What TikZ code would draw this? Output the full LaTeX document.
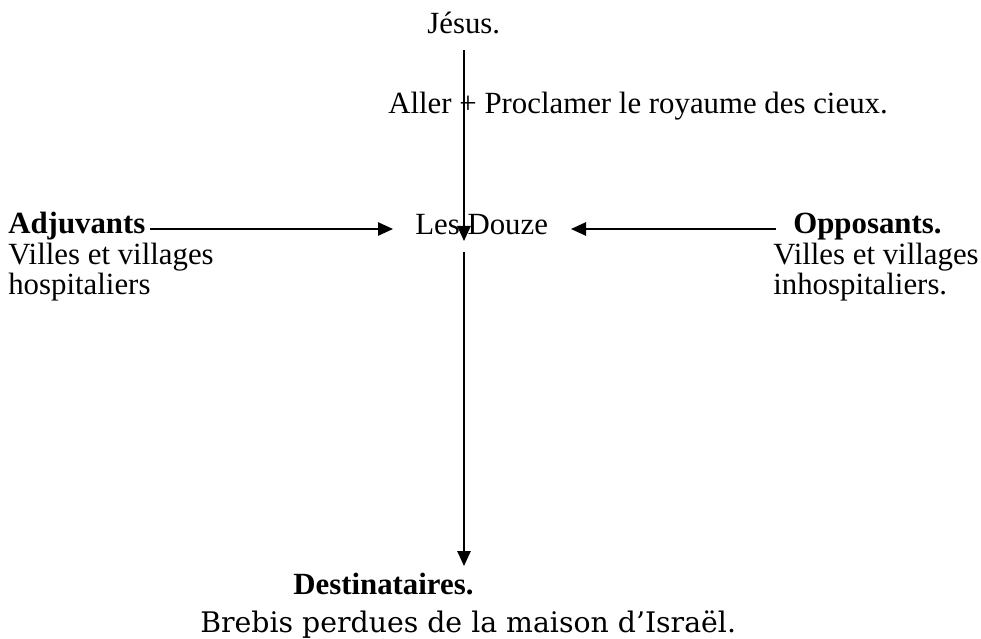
\documentclass[tikz,border=0pt]{standalone}
\usepackage{fontspec}
\setmainfont{Liberation Serif}
\newfontfamily\brebisfont{DejaVu Serif}
\usetikzlibrary{arrows.meta}
\begin{document}
\begin{tikzpicture}[x=0.6pt,y=-0.6pt,
  lbl/.style={inner sep=0pt,anchor=base west,font=\fontsize{18.5}{22}\selectfont},
  conn/.style={line width=1pt,-{Triangle[length=9pt,width=8pt]}}]
\useasboundingbox (0,0) rectangle (981,639);
\node[lbl] (jesus) at (427,34) {Jésus.};
\node[lbl] (aller) at (388,114) {Aller + Proclamer le royaume des cieux.};
\node[lbl] (douze) at (415,235) {Les Douze};
\node[lbl] (adj) at (8,234) {\bfseries Adjuvants};
\node[lbl] (adj1) at (8,265) {Villes et villages};
\node[lbl] (adj2) at (8,295) {hospitaliers};
\node[lbl] (opp) at (793,234) {\bfseries Opposants.};
\node[lbl] (opp1) at (773,265) {Villes et villages};
\node[lbl] (opp2) at (773,295) {inhospitaliers.};
\node[lbl] (dest) at (293,594) {\bfseries Destinataires.};
\node[lbl,font=\brebisfont\fontsize{17}{20}\selectfont] (brebis) at (200,632) {Brebis perdues de la maison d’Israël.};
\coordinate (topstart) at (464,50);
\coordinate (toptip) at (464,241);
\coordinate (botstart) at (464,252);
\coordinate (bottip) at (464,566);
\coordinate (ladj) at (150,229);
\coordinate (ladjtip) at (393,229);
\coordinate (ropp) at (776,229);
\coordinate (rtip) at (571,229);
\draw[conn] (topstart) -- (toptip);
\draw[conn] (botstart) -- (bottip);
\draw[conn] (ladj) -- (ladjtip);
\draw[conn] (ropp) -- (rtip);
\end{tikzpicture}
\end{document}
